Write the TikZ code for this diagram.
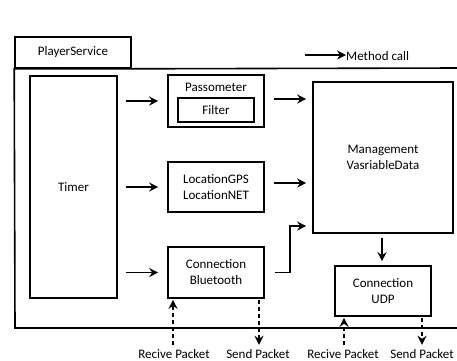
\documentclass[tikz,border=0pt]{standalone}
\usepackage{fontspec}
\setmainfont{Carlito}
\usetikzlibrary{arrows.meta}
\begin{document}
\begin{tikzpicture}[x=1pt,y=-1pt,
  every node/.style={font=\fontsize{13}{16}\selectfont},
  box/.style={draw,line width=1.6pt,rectangle,inner sep=0pt,align=center},
  arr/.style={line width=1.6pt,-{Stealth[length=9pt,width=9pt,inset=3pt]}},
  darr/.style={arr,dash pattern=on 4pt off 3pt},
  lbl/.style={inner sep=0pt,anchor=base}]
\useasboundingbox (0,0) rectangle (457,360);
% frame and tab
\node[box,minimum width=116pt,minimum height=31pt] (tab) at (73,52.5) {PlayerService};
\coordinate (ftr) at (458,68);
\coordinate (fbr) at (458,328);
\draw[line width=1.6pt] (ftr) -- (tab.south east) -- (tab.south west) -- (15,328) -- (fbr);
% boxes
\node[box,minimum width=87pt,minimum height=222pt] (timer) at (73.5,187) {Timer};
\node[box,minimum width=96pt,minimum height=52pt] (pass) at (216,101) {};
\node[inner sep=0pt] (passt) at (216,87) {Passometer};
\node[box,minimum width=76pt,minimum height=24pt] (filter) at (216,110) {Filter};
\node[box,minimum width=96pt,minimum height=50pt] (loc) at (216,187) {LocationGPS\\LocationNET};
\node[box,minimum width=96pt,minimum height=51pt] (bt) at (216,272.5) {Connection\\Bluetooth};
\node[box,minimum width=140pt,minimum height=151pt] (mgmt) at (383,157.5) {Management\\VasriableData};
\node[box,minimum width=96pt,minimum height=50pt] (udp) at (383,291) {Connection\\UDP};
% method-call arrows
\draw[arr,shorten <=8pt,shorten >=9pt] (timer.east |- pass.west) -- (pass.west);
\draw[arr,shorten <=8pt,shorten >=9pt] (timer.east |- loc.west) -- (loc.west);
\draw[arr,shorten <=8pt,shorten >=9pt] (timer.east |- bt.west) -- (bt.west);
\draw[arr,shorten <=9pt,shorten >=6pt] ([yshift=2pt]pass.east) -- ([yshift=2pt]pass.east -| mgmt.west);
\draw[arr,shorten <=9pt,shorten >=6pt] ([yshift=4pt]loc.east) -- ([yshift=4pt]loc.east -| mgmt.west);
\coordinate (bend) at (290,226);
\draw[arr,shorten >=6pt] ([xshift=10pt]bt.east) -| (bend) -- (bend -| mgmt.west);
\draw[arr,shorten <=4pt,shorten >=4pt] ([xshift=-1pt]mgmt.south) -- ([xshift=-1pt]udp.north);
% packets
\node[lbl] (recv1) at (174,358) {Recive Packet};
\node[lbl] (send1) at (258,358) {Send Packet};
\node[lbl] (recv2) at (343,358) {Recive Packet};
\node[lbl] (send2) at (422,358) {Send Packet};
\draw[darr,shorten <=4pt,shorten >=1pt] ([xshift=-1pt]recv1.north) -- ([xshift=-1pt]recv1.north |- bt.south);
\draw[darr,shorten <=1pt,shorten >=4pt] ([xshift=1pt]send1.north |- bt.south) -- ([xshift=1pt]send1.north);
\draw[darr,shorten <=4pt,shorten >=1pt] ([xshift=1pt]recv2.north) -- ([xshift=1pt]recv2.north |- udp.south);
\draw[darr,shorten <=1pt,shorten >=4pt] (send2.north |- udp.south) -- (send2.north);
% legend
\node[lbl,anchor=base west] (legt) at (346,60) {Method call};
\coordinate (legs) at (305,55);
\draw[arr] (legs) -- (legs -| legt.west);
\end{tikzpicture}
\end{document}
